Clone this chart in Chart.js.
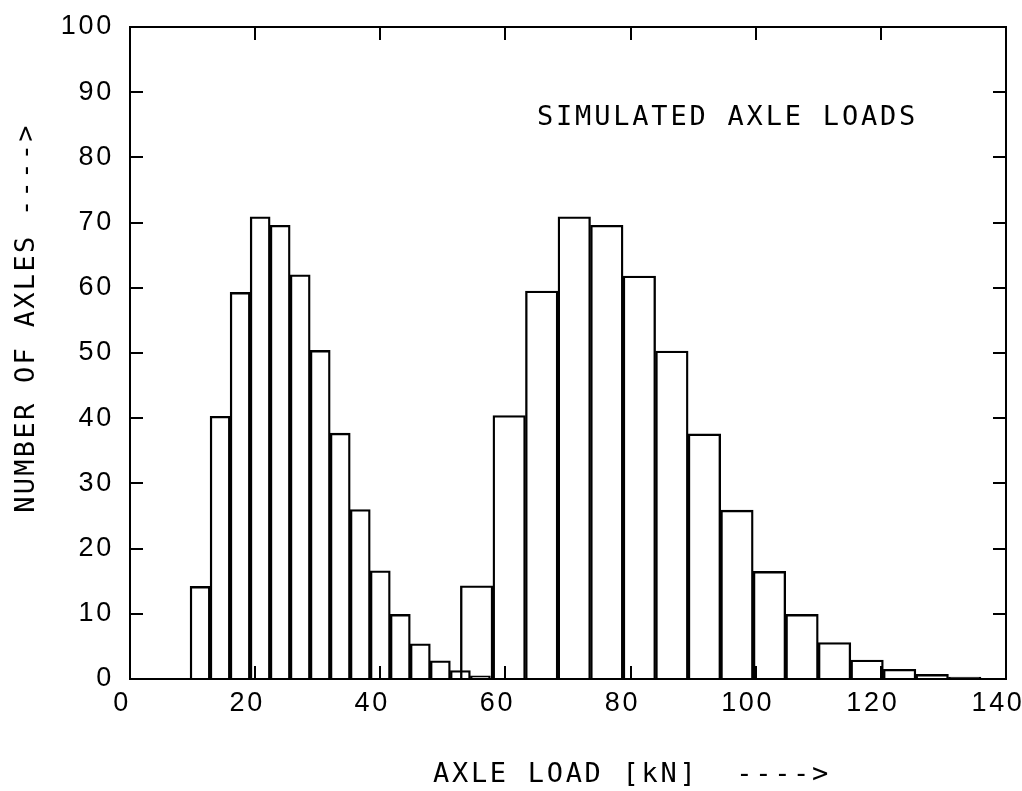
<!DOCTYPE html>
<html>
<head>
<meta charset="utf-8">
<script src="https://cdn.jsdelivr.net/npm/chart.js@4/dist/chart.umd.min.js"></script>
<style>
html, body { margin: 0; padding: 0; background: #fff; }
canvas { display: block; }
</style>
</head>
<body>
<canvas id="c" width="1022" height="791"></canvas>
<script>
// ---- data ----
const frontBinCenters = [11.2, 14.4, 17.6, 20.8, 24.0, 27.2, 30.4, 33.6, 36.8, 40.0, 43.2, 46.4, 49.6, 52.8, 56.0];
const frontCounts     = [14.2, 40.3, 59.3, 70.9, 69.6, 62.0, 50.4, 37.7, 26.0, 16.6, 9.9, 5.4, 2.8, 1.3, 0.5];
const rearBinCenters  = [55.4, 60.6, 65.8, 71.0, 76.2, 81.4, 86.6, 91.8, 97.0, 102.2, 107.4, 112.6, 117.8, 123.0, 128.2, 133.4, 138.6];
const rearCounts      = [14.3, 40.4, 59.5, 70.9, 69.6, 61.8, 50.3, 37.6, 25.9, 16.5, 9.9, 5.6, 2.9, 1.5, 0.7, 0.3, 0.1];
const xTickValues = [0, 20, 40, 60, 80, 100, 120, 140];
const yTickValues = [0, 10, 20, 30, 40, 50, 60, 70, 80, 90, 100];
const chartTitle = 'SIMULATED AXLE LOADS';
const xAxisTitle = 'AXLE LOAD [kN]  ---->';
const yAxisTitle = 'NUMBER OF AXLES ---->';
const titleAt = [95.5, 86.0];

// ---- chart ----
const tickFont = { family: '"Liberation Sans", Arial, sans-serif', size: 27 };
const textFont = '27px "DejaVu Sans Mono", "Liberation Mono", monospace';

const grid = { drawOnChartArea: false, drawTicks: true, tickLength: -13, color: '#000', lineWidth: 2, offset: false };
const border = { display: true, color: '#000', width: 2 };
const setX = s => { s.ticks = xTickValues.map(v => ({ value: v })); };
const setY = s => { s.ticks = yTickValues.map(v => ({ value: v })); };

const textPlugin = {
  id: 'plotterText',
  beforeLayout(chart) { chart.ctx.letterSpacing = '2.7px'; },
  beforeDraw(chart) { chart.ctx.letterSpacing = '2.7px'; },
  afterDraw(chart) {
    const { ctx, chartArea: a, scales } = chart;
    ctx.save();
    ctx.fillStyle = '#000';
    ctx.textAlign = 'center';
    ctx.textBaseline = 'middle';
    ctx.font = textFont;
    ctx.letterSpacing = '2.8px';
    ctx.fillText(chartTitle, scales.x.getPixelForValue(titleAt[0]), scales.y.getPixelForValue(titleAt[1]));
    ctx.letterSpacing = '2.7px';
    ctx.fillText(xAxisTitle, (a.left + a.right) / 2 + 64, a.bottom + 96);
    ctx.translate(a.left - 103, (a.top + a.bottom) / 2 - 35);
    ctx.rotate(-Math.PI / 2);
    ctx.letterSpacing = '2.3px';
    ctx.fillText(yAxisTitle, 0, 0);
    ctx.restore();
  }
};

const barStyle = {
  backgroundColor: 'rgba(0,0,0,0)',
  borderColor: '#000',
  borderWidth: 1.7,
  categoryPercentage: 1,
  barPercentage: 1,
  grouped: false
};

new Chart(document.getElementById('c'), {
  type: 'bar',
  data: {
    datasets: [
      Object.assign({
        label: 'front',
        data: frontBinCenters.map((x, i) => ({ x, y: frontCounts[i] })),
        xAxisID: 'x', yAxisID: 'y'
      }, barStyle),
      Object.assign({
        label: 'rear',
        data: rearBinCenters.map((x, i) => ({ x, y: rearCounts[i] })),
        xAxisID: 'xTop', yAxisID: 'y'
      }, barStyle)
    ]
  },
  options: {
    responsive: false,
    animation: false,
    devicePixelRatio: 1,
    layout: { autoPadding: false, padding: { top: 27, right: 16, bottom: 0, left: 0 } },
    plugins: { legend: { display: false }, tooltip: { enabled: false }, title: { display: false } },
    scales: {
      x: {
        type: 'linear', position: 'bottom', min: 0, max: 140, offset: false,
        grid, border, afterBuildTicks: setX,
        ticks: { font: tickFont, color: '#000', padding: 21, labelOffset: -8, maxRotation: 0, autoSkip: false },
        afterFit(s) { s.height = 112; s.paddingLeft = 0; s.paddingRight = 0; }
      },
      xTop: {
        type: 'linear', position: 'top', min: 0, max: 140, offset: false,
        grid, border, afterBuildTicks: setX,
        ticks: { display: false },
        afterFit(s) { s.height = 0; s.paddingLeft = 0; s.paddingRight = 0; }
      },
      y: {
        type: 'linear', position: 'left', min: 0, max: 100,
        grid, border, afterBuildTicks: setY,
        ticks: { font: tickFont, color: '#000', padding: 29, autoSkip: false },
        afterFit(s) { s.width = 130; s.paddingTop = 0; s.paddingBottom = 0; }
      },
      yRight: {
        type: 'linear', position: 'right', min: 0, max: 100,
        grid, border, afterBuildTicks: setY,
        ticks: { display: false },
        afterFit(s) { s.width = 0; s.paddingTop = 0; s.paddingBottom = 0; }
      }
    }
  },
  plugins: [textPlugin]
});
</script>
</body>
</html>
